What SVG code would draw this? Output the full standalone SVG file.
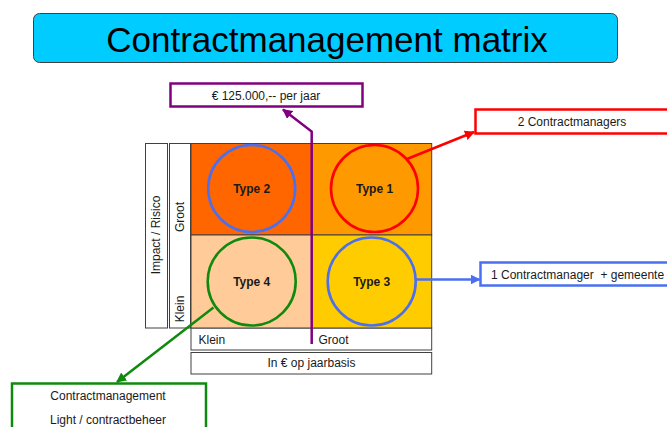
<svg xmlns="http://www.w3.org/2000/svg" width="667" height="427" viewBox="0 0 667 427">
<defs>
<style>
text{font-family:"Liberation Sans",Arial,sans-serif;fill:#1a1a1a}
.lbl{font-size:12px}
.typ{font-size:12px;font-weight:bold;text-anchor:middle}
.frame{fill:#fff;stroke:#404040;stroke-width:1}
.q{stroke:#404040;stroke-width:1}
.circ{fill:none;stroke-width:2.6}
.conn{fill:none;stroke-width:2.5}
</style>
<marker id="ap" viewBox="0 0 10 10" refX="9" refY="5" markerWidth="4" markerHeight="4" orient="auto" markerUnits="strokeWidth"><path d="M0,0 L10,5 L0,10 z" fill="#800080"/></marker>
<marker id="ar" viewBox="0 0 10 10" refX="9" refY="5" markerWidth="4" markerHeight="4" orient="auto" markerUnits="strokeWidth"><path d="M0,0 L10,5 L0,10 z" fill="#ff0000"/></marker>
<marker id="ab" viewBox="0 0 10 10" refX="9" refY="5" markerWidth="4" markerHeight="4" orient="auto" markerUnits="strokeWidth"><path d="M0,0 L10,5 L0,10 z" fill="#4a6ff0"/></marker>
<marker id="ag" viewBox="0 0 10 10" refX="9" refY="5" markerWidth="4" markerHeight="4" orient="auto" markerUnits="strokeWidth"><path d="M0,0 L10,5 L0,10 z" fill="#0f8a0f"/></marker>
</defs>
<rect width="667" height="427" fill="#fff"/>

<g id="title">
<rect x="33.5" y="13.5" width="584" height="49" rx="6" fill="#00ccff" stroke="#404040" stroke-width="1"/>
<text x="327" y="51.5" font-size="35" text-anchor="middle" style="fill:#000">Contractmanagement matrix</text>
</g>

<g id="axis-y">
<rect class="frame" x="145.5" y="143.5" width="22" height="184.5"/>
<rect class="frame" x="169.5" y="143.5" width="21" height="184.5"/>
<text class="lbl" transform="translate(160,235) rotate(-90)" text-anchor="middle">Impact / Risico</text>
<text class="lbl" transform="translate(184,217) rotate(-90)" text-anchor="middle">Groot</text>
<text class="lbl" transform="translate(184,309) rotate(-90)" text-anchor="middle">Klein</text>
</g>

<g id="axis-x">
<rect class="frame" x="191" y="328" width="240.7" height="22"/>
<text class="lbl" x="198.5" y="344">Klein</text>
<text class="lbl" x="318.5" y="344">Groot</text>
<rect class="frame" x="191" y="352.5" width="240.7" height="21.5"/>
<text class="lbl" x="311.5" y="366.5" text-anchor="middle">In € op jaarbasis</text>
</g>

<g id="type2">
<rect class="q" x="191" y="143.5" width="120.5" height="91.5" fill="#ff6600"/>
<circle class="circ" cx="251.7" cy="188.5" r="43.5" stroke="#4a6ff0"/>
<text class="typ" x="251.7" y="192.5">Type 2</text>
</g>
<g id="type1">
<rect class="q" x="311.5" y="143.5" width="120.2" height="91.5" fill="#ff9900"/>
<circle class="circ" cx="374.5" cy="188.5" r="43.5" stroke="#ff0000"/>
<text class="typ" x="374.5" y="192.5">Type 1</text>
</g>
<g id="type4">
<rect class="q" x="191" y="235" width="120.5" height="93" fill="#ffcc99"/>
<circle class="circ" cx="251.7" cy="281.5" r="44" stroke="#0f8a0f"/>
<text class="typ" x="251.7" y="285.5">Type 4</text>
</g>
<g id="type3">
<rect class="q" x="311.5" y="235" width="120.2" height="93" fill="#ffcc00"/>
<circle class="circ" cx="371.7" cy="281.5" r="44" stroke="#4a6ff0"/>
<text class="typ" x="371.7" y="285.5">Type 3</text>
</g>

<g id="budget">
<rect x="170.5" y="83.5" width="192" height="23" fill="#fff" stroke="#800080" stroke-width="2.5"/>
<text class="lbl" x="266" y="100" text-anchor="middle">€ 125.000,-- per jaar</text>
</g>
<g id="two-managers">
<rect x="475.5" y="109.5" width="200" height="24" fill="#fff" stroke="#ff0000" stroke-width="2.5"/>
<text class="lbl" x="572" y="126" text-anchor="middle">2 Contractmanagers</text>
</g>
<g id="one-manager">
<rect x="480.5" y="262.5" width="200" height="23" fill="#fff" stroke="#4a6ff0" stroke-width="2.5"/>
<text class="lbl" x="491" y="278.5" xml:space="preserve">1 Contractmanager  + gemeente</text>
</g>
<g id="light">
<rect x="12" y="383.5" width="194" height="60" fill="#fff" stroke="#0f8a0f" stroke-width="2.5"/>
<text class="lbl" x="108" y="399.5" text-anchor="middle">Contractmanagement</text>
<text class="lbl" x="108" y="424" text-anchor="middle">Light / contractbeheer</text>
</g>

<g id="connectors">
<polyline class="conn" points="311.7,344 311.7,131.5 283,109.5" stroke="#800080" marker-end="url(#ap)"/>
<line class="conn" x1="407" y1="159" x2="474" y2="132" stroke="#ff0000" marker-end="url(#ar)"/>
<line class="conn" x1="415.5" y1="279.5" x2="479.5" y2="279.5" stroke="#4a6ff0" marker-end="url(#ab)"/>
<line class="conn" x1="213.5" y1="307.5" x2="117" y2="382" stroke="#0f8a0f" marker-end="url(#ag)"/>
</g>
</svg>
